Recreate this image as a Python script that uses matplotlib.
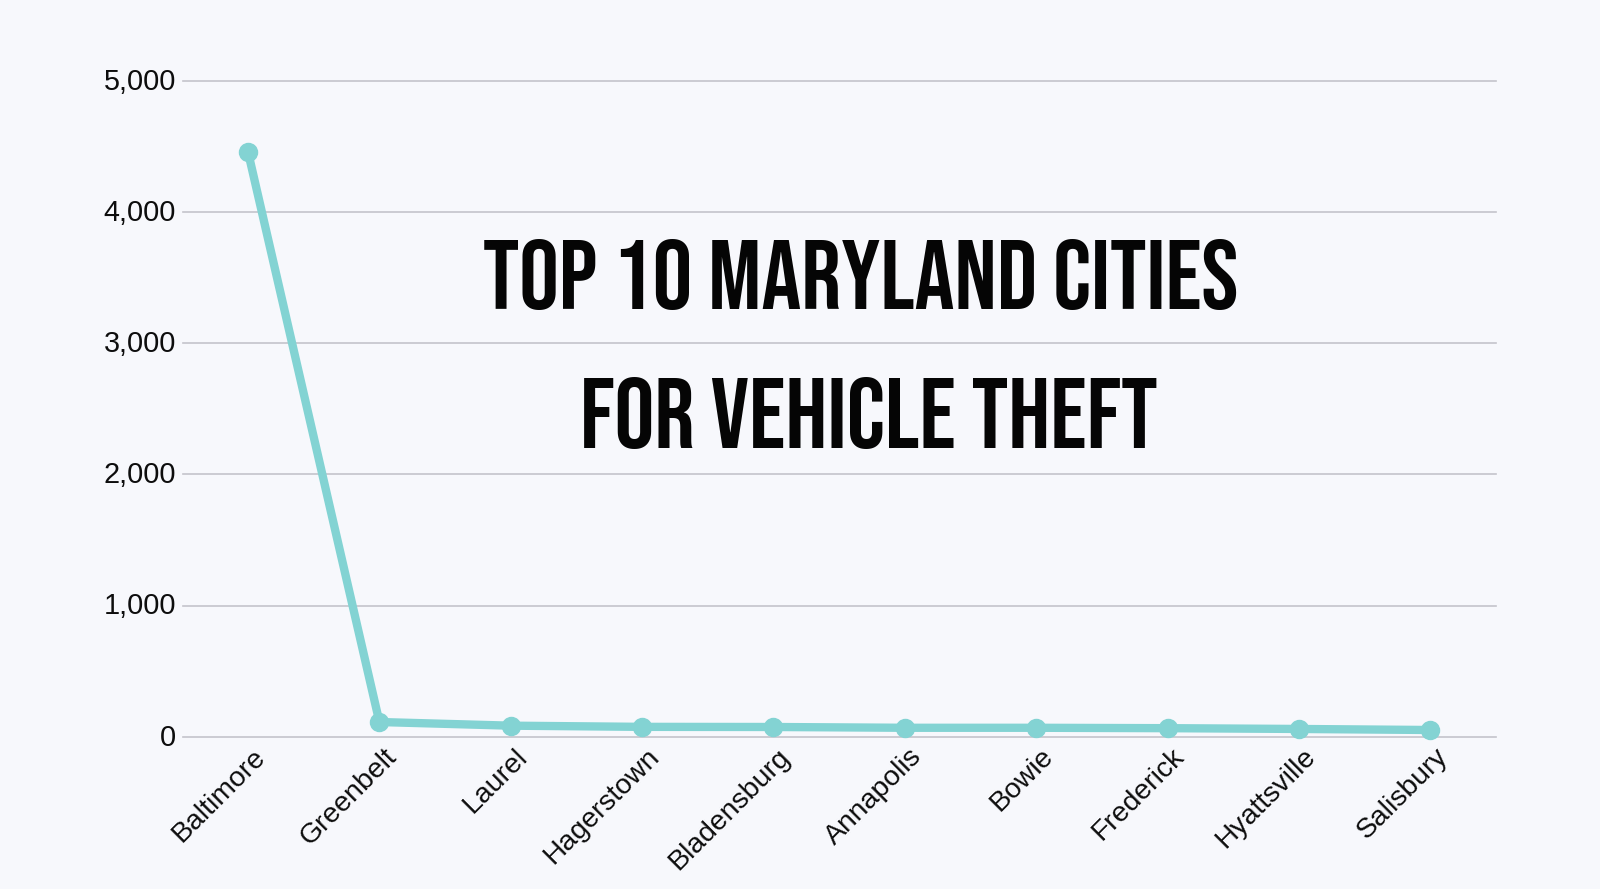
import matplotlib.pyplot as plt
from matplotlib.ticker import FuncFormatter
from matplotlib.transforms import ScaledTranslation

cities = ["Baltimore", "Greenbelt", "Laurel", "Hagerstown", "Bladensburg",
          "Annapolis", "Bowie", "Frederick", "Hyattsville", "Salisbury"]
thefts = [4457, 112, 84, 75, 74, 68, 68, 65, 59, 51]
y_ticks = [0, 1000, 2000, 3000, 4000, 5000]
title_lines = ["TOP 10 MARYLAND CITIES", "FOR VEHICLE THEFT"]

bg = "#f7f8fc"
W, H = 1600, 889

plt.rcParams["font.family"] = ["Liberation Sans", "DejaVu Sans"]

fig = plt.figure(figsize=(W / 100, H / 100), dpi=100, facecolor=bg)
ax = fig.add_axes([183 / W, 1 - 736.7 / H, (1496 - 183) / W, (736.7 - 80.7) / H])
ax.set_facecolor(bg)

ax.plot(range(len(cities)), thefts, color="#83d3d3", linewidth=6, marker="o",
        markersize=13, clip_on=False, zorder=3)

ax.set_xlim(-0.495, 9.5)
ax.set_ylim(0, 5000)
ax.set_yticks(y_ticks)
ax.yaxis.set_major_formatter(FuncFormatter(lambda v, p: f"{int(v):,}"))
ax.set_xticks(range(len(cities)))
ax.set_xticklabels(cities, rotation=45, ha="right", rotation_mode="anchor")

ax.grid(True, axis="y", color="#c4c4cb", linewidth=1.2, clip_on=False)
ax.set_axisbelow(True)
ax.tick_params(axis="y", length=0, pad=5, labelsize=20.8, labelcolor="#0d0d0d")
ax.tick_params(axis="x", length=0, pad=6, labelsize=20.4, labelcolor="#0d0d0d")
for s in ax.spines.values():
    s.set_visible(False)

# nudge the tick labels a few pixels to sit where the reference has them
for lab in ax.get_yticklabels():
    lab.set_verticalalignment("center")
    lab.set_transform(lab.get_transform() + ScaledTranslation(0, -1 / 100, fig.dpi_scale_trans))
for lab in ax.get_xticklabels():
    lab.set_transform(lab.get_transform() + ScaledTranslation(4 / 100, 1.5 / 100, fig.dpi_scale_trans))

# Title is placed by hand over the plot
title_font = ["Bebas Neue", "Liberation Sans"]
fig.text(861 / W, 1 - 309 / H, title_lines[0], ha="center", va="baseline",
         fontsize=71.4, family=title_font, color="#050505")
fig.text(869 / W, 1 - 448 / H, title_lines[1], ha="center", va="baseline",
         fontsize=72, family=title_font, color="#050505")

fig.savefig("out.png", dpi=100, facecolor=bg)
